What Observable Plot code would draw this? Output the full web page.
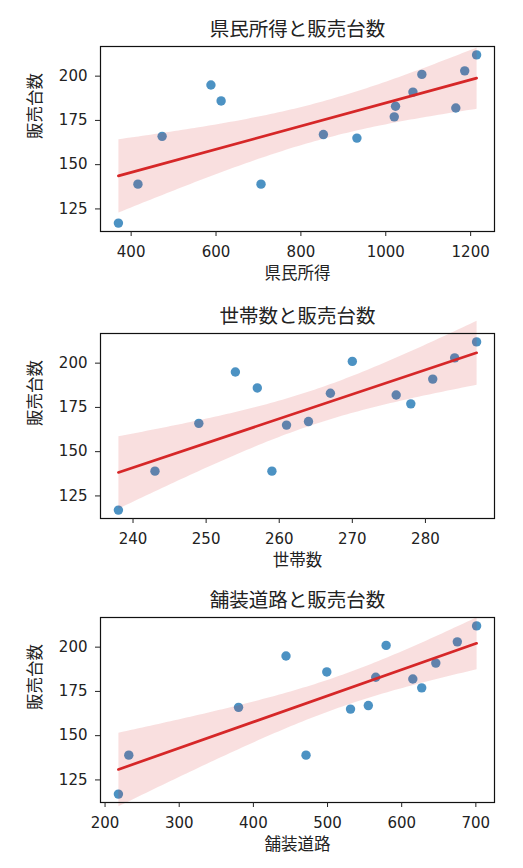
<!DOCTYPE html>
<html>
<head>
<meta charset="utf-8">
<script src="https://cdn.jsdelivr.net/npm/d3@7"></script>
<script src="https://cdn.jsdelivr.net/npm/@observablehq/plot@0.6"></script>
<style>
  html, body { margin: 0; padding: 0; background: white; }
  #charts { width: 523px; }
  #charts svg { display: block; }
</style>
</head>
<body>
<div id="charts"></div>
<script>
// ---- data ----
const sales      = [117, 139, 166, 195, 186, 139, 167, 165, 177, 183, 191, 201, 182, 203, 212];
const income     = [370, 416, 473, 588, 612, 706, 853, 932, 1020, 1023, 1064, 1085, 1165, 1186, 1214];
const households = [238, 243, 249, 254, 257, 259, 264, 261, 278, 267, 281, 270, 276, 284, 287];
const roads      = [218, 232, 380, 444, 499, 471, 555, 531, 627, 565, 646, 579, 615, 675, 701];

const titles  = ["県民所得と販売台数", "世帯数と販売台数", "舗装道路と販売台数"];
const xLabels = ["県民所得", "世帯数", "舗装道路"];
const yLabel  = "販売台数";

const xTicks1 = [400, 600, 800, 1000, 1200];
const xTicks2 = [240, 250, 260, 270, 280];
const xTicks3 = [200, 300, 400, 500, 600, 700];
const yTicks  = [125, 150, 175, 200];

// ---- layout / style ----
const FONT = "'DejaVu Sans', 'Noto Sans CJK JP', sans-serif";
const BLUE = "#1f77b4";
const RED = "#d62728";

function paddedDomain(vals) {
  const [a, b] = d3.extent(vals);
  const m = (b - a) * 0.05;
  return [a - m, b + m];
}

const panels = [
  {x: income, ticks: xTicks1, title: titles[0], xl: xLabels[0], height: 287, mt: 46},
  {x: households, ticks: xTicks2, title: titles[1], xl: xLabels[1], height: 287, mt: 46},
  {x: roads, ticks: xTicks3, title: titles[2], xl: xLabels[2], height: 294, mt: 43}
];

const container = document.getElementById("charts");

for (const p of panels) {
  const data = p.x.map((v, i) => ({x: v, y: sales[i]}));
  const frameH = 185;
  const chart = Plot.plot({
    width: 523,
    height: p.height,
    marginTop: p.mt,
    marginBottom: p.height - p.mt - frameH,
    marginLeft: 100,
    marginRight: 29,
    style: {fontFamily: FONT, background: "white", color: "#222"},
    x: {domain: paddedDomain(p.x), ticks: p.ticks},
    y: {domain: paddedDomain(sales), ticks: yTicks},
    marks: [
      Plot.dot(data, {x: "x", y: "y", r: 4.7, fill: BLUE, fillOpacity: 0.8, stroke: "none"}),
      Plot.linearRegressionY(data, {
        x: "x", y: "y", ci: 0.95,
        stroke: RED, strokeWidth: 2.7, fill: RED, fillOpacity: 0.15
      }),
      Plot.frame({stroke: "#111", strokeWidth: 1.2}),
      Plot.axisX({ticks: p.ticks, tickFormat: d3.format("d"), tickSize: 5, tickPadding: 10, fontSize: 15, label: null, stroke: "#222"}),
      Plot.axisY({ticks: yTicks, tickFormat: d3.format("d"), tickSize: 5, tickPadding: 8, fontSize: 15, label: null, stroke: "#222"}),
      Plot.text([p.title], {text: d => d, frameAnchor: "top", dy: -24, fontSize: 19.5, fill: "#222"}),
      Plot.text([p.xl], {text: d => d, frameAnchor: "bottom", dy: 47, fontSize: 16.5, fill: "#222"}),
      Plot.text([yLabel], {text: d => d, frameAnchor: "left", dx: -65, rotate: -90, fontSize: 16.5, fill: "#222"})
    ]
  });
  container.appendChild(chart);
}
</script>
</body>
</html>
